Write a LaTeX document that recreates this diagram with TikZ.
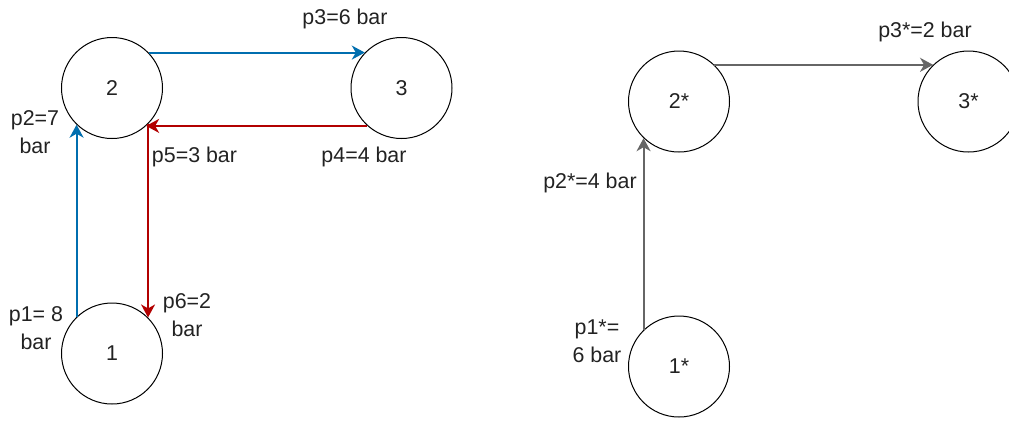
\documentclass[tikz,border=0pt]{standalone}
\usepackage{fontspec}
\setmainfont{Liberation Sans}
\usetikzlibrary{arrows.meta}
\definecolor{flowblue}{HTML}{006EAF}
\definecolor{flowred}{HTML}{B20000}
\definecolor{flowgray}{HTML}{666666}
\definecolor{txt}{HTML}{222222}

\begin{document}
\begin{tikzpicture}[x=0.5pt, y=-0.5pt,
	main/.style = {draw, circle, minimum size=50.5pt, inner sep=0pt, line width=0.5pt, text=txt, font=\fontsize{10.7}{14}\selectfont},
	lbl/.style = {align=center, inner sep=0pt, text=txt, font=\fontsize{10.7}{14}\selectfont},
	flow/.style = {line width=1pt, -{Stealth[length=6.5pt, width=7pt, inset=2pt]}}]

		\useasboundingbox (0,0) rectangle (1009,420);

		\node[main] (2) at (112,88) {2};
		\node[main] (3) at (401.5,88) {3};
		\node[main] (1) at (112,353.5) {1};

		\node[main] (2s) at (679,101.5) {2*};
		\node[main] (3s) at (968.5,101.5) {3*};
		\node[main] (1s) at (679,366.5) {1*};

		\node[lbl] (p3) at (345,19) {p3=6 bar};
		\node[lbl] (p2) at (35,132) {p2=7\\bar};
		\node[lbl] (p5) at (194.5,157) {p5=3 bar};
		\node[lbl] (p4) at (364,157) {p4=4 bar};
		\node[lbl] (p1) at (36,328) {p1= 8\\bar};
		\node[lbl] (p6) at (187,315) {p6=2\\bar};

		\node[lbl] (p3s) at (925,32) {p3*=2 bar};
		\node[lbl] (p2s) at (590,183) {p2*=4 bar};
		\node[lbl] (p1s) at (597,341) {p1*=\\6 bar};

		\draw[flow, flowblue] (1.134) -- (2.-134);
		\draw[flow, flowblue] (2.44) -- (3.136);
		\draw[flow, flowred] (3.-132) -- (2.-48);
		\draw[flow, flowred] (2.-45) -- (1.45);

		\draw[flow, flowgray] (1s.134) -- (2s.-134);
		\draw[flow, flowgray] (2s.46) -- (3s.134);
	\end{tikzpicture}
\end{document}
